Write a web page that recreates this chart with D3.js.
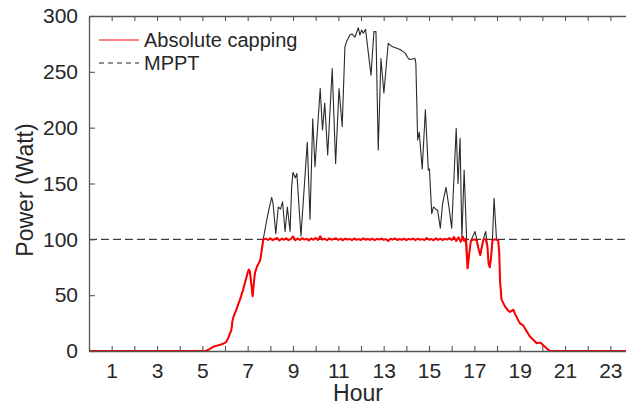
<!DOCTYPE html>
<html>
<head>
<meta charset="utf-8">
<script src="https://cdn.jsdelivr.net/npm/d3@7"></script>
<style>
  html, body { margin: 0; padding: 0; background: #fff; }
  svg { display: block; font-family: "Liberation Sans", Arial, Helvetica, sans-serif; }
</style>
</head>
<body>
<svg id="chart" width="626" height="405"></svg>
<script>
// ---------------- data ----------------
const xTicks = d3.range(0, 25);                 // hour ticks
const xTickLabels = [1, 3, 5, 7, 9, 11, 13, 15, 17, 19, 21, 23];
const yTicks = [0, 50, 100, 150, 200, 250, 300];
const capLimit = 100;
const legendLabels = ["Absolute capping", "MPPT"];

// Absolute capping output [hour, watt]
const capping = [
  [0,0],[5.15,0],[5.3,1.5],[5.48,3.8],[5.65,4.8],[5.8,5.6],[5.95,6.8],[6.05,8],[6.15,12],
  [6.28,19],[6.33,27],[6.38,31],[6.5,37],[6.66,46],[6.8,55],[6.92,64],[7.0,70],[7.05,73],
  [7.1,71],[7.15,62],[7.22,49],[7.27,60],[7.32,70],[7.4,75],[7.47,78],[7.55,81],[7.62,90],
  [7.69,100],[7.8,100.6],[7.9,99.4],[8.0,100.9],[8.1,99.2],[8.2,100.3],[8.3,101.2],[8.4,99.0],
  [8.5,100.5],[8.6,99.6],[8.7,101.0],[8.8,99.3],[8.9,100.2],[9.0,102.6],[9.1,99.1],[9.2,100.7],
  [9.3,99.5],[9.4,101.0],[9.5,99.8],[9.6,100.4],[9.7,98.9],[9.8,100.8],[9.9,99.6],[10.0,101.3],
  [10.1,99.4],[10.2,102.8],[10.3,99.7],[10.4,100.5],[10.5,99.2],[10.6,100.9],[10.7,99.6],
  [10.8,100.3],[10.9,101.0],[11.0,99.4],[11.1,100.6],[11.2,99.1],[11.3,100.7],[11.4,99.8],
  [11.5,100.4],[11.6,99.3],[11.7,100.8],[11.8,99.6],[11.9,100.2],[12.0,99.4],[12.1,100.9],
  [12.2,99.7],[12.3,100.3],[12.4,99.5],[12.5,100.6],[12.6,99.2],[12.7,100.4],[12.8,99.8],
  [12.9,100.7],[13.0,99.5],[13.1,100.2],[13.2,98.6],[13.3,100.5],[13.4,99.7],[13.5,100.8],
  [13.6,99.4],[13.7,100.3],[13.8,99.6],[13.9,100.6],[14.0,99.3],[14.1,100.4],[14.2,99.8],
  [14.3,100.7],[14.4,99.2],[14.5,100.5],[14.6,99.7],[14.7,100.2],[14.8,99.4],[14.9,101.1],
  [15.0,99.6],[15.1,100.3],[15.2,99.1],[15.3,101.0],[15.4,99.5],[15.5,100.6],[15.6,99.3],
  [15.7,100.4],[15.8,99.8],[15.9,101.2],[16.0,99.4],[16.1,102.0],[16.2,98.6],[16.3,101.8],
  [16.4,97.8],[16.5,102.4],[16.55,98.5],[16.62,100.5],[16.7,74],[16.78,88],[16.85,99],
  [17.0,100],[17.1,99],[17.2,90],[17.26,86],[17.32,92],[17.4,100],[17.5,100],[17.57,95],
  [17.63,78],[17.68,75],[17.73,82],[17.8,99],[17.9,100],[18.0,99.5],[18.05,99],[18.1,88],
  [18.13,64],[18.2,46],[18.35,40],[18.5,36],[18.57,35],[18.65,36],[18.72,37],[18.8,33],
  [18.9,29],[19.0,25],[19.15,23],[19.3,18],[19.45,13],[19.6,10],[19.75,7],[19.85,7.5],
  [19.92,7.5],[20.05,5],[20.19,2.4],[20.33,0],[24,0]
];

// MPPT output [hour, watt]
const mppt = [
  [0,0],[5.15,0],[5.3,1.5],[5.48,3.8],[5.65,4.8],[5.8,5.6],[5.95,6.8],[6.05,8],[6.15,12],
  [6.28,19],[6.33,27],[6.38,31],[6.5,37],[6.66,46],[6.8,55],[6.92,64],[7.0,70],[7.05,73],
  [7.1,71],[7.15,62],[7.22,49],[7.27,60],[7.32,70],[7.4,75],[7.47,78],[7.55,81],[7.62,90],
  [7.69,100.5],[7.84,117],[7.95,128],[8.06,137.6],[8.12,132],[8.24,105],[8.35,129],[8.45,127],
  [8.54,133.7],[8.65,107],[8.75,129],[8.87,107],[8.94,147],[9.0,160],[9.1,155],[9.17,159],
  [9.35,103],[9.63,187],[9.75,118],[9.87,208],[9.97,165],[10.2,235],[10.3,198],[10.4,222],
  [10.53,175.5],[10.73,253],[10.88,168],[11.03,235],[11.17,201],[11.29,272],[11.36,277],
  [11.51,283],[11.6,284],[11.73,281],[11.88,289.5],[11.95,283],[12.03,287.5],[12.1,284.6],
  [12.2,288],[12.44,247],[12.57,286],[12.66,286],[12.76,180],[12.88,262],[13.01,231],
  [13.2,275.5],[13.35,273],[13.72,270],[13.94,267],[14.09,262],[14.16,261],[14.38,262],
  [14.42,257.6],[14.5,189],[14.57,196],[14.7,163],[14.84,216],[14.97,162],[15.02,163],
  [15.12,123],[15.2,129],[15.3,127],[15.38,126],[15.5,110],[15.6,132],[15.75,146.6],
  [15.88,129],[16.0,110],[16.2,199.5],[16.28,150],[16.37,190.5],[16.45,100],[16.55,162],
  [16.66,100],[16.7,74],[16.78,88],[16.85,99],[17.03,107],[17.12,99],[17.2,90],[17.26,86],
  [17.32,92],[17.4,100],[17.5,107],[17.57,95],[17.63,78],[17.68,75],[17.73,82],[17.8,100],
  [17.87,136.7],[17.98,99.5],[18.05,99],[18.1,88],[18.13,64],[18.2,46],[18.35,40],[18.5,36],
  [18.57,35],[18.65,36],[18.72,37],[18.8,33],[18.9,29],[19.0,25],[19.15,23],[19.3,18],
  [19.45,13],[19.6,10],[19.75,7],[19.85,7.5],[19.92,7.5],[20.05,5],[20.19,2.4],[20.33,0],[24,0]
];

// ---------------- layout ----------------
const svg = d3.select("#chart");
const mLeft = 89, mTop = 16, mBottom = 351, hourPx = 22.667;
const mRight = mLeft + 24 * hourPx;
const axisColor = "#555";
const textColor = "#262626";

const x = d3.scaleLinear().domain([0, 24]).range([mLeft, mRight]);
const y = d3.scaleLinear().domain([0, 300]).range([mBottom, mTop]);

svg.append("defs").append("clipPath").attr("id", "plotClip")
  .append("rect").attr("x", mLeft).attr("y", mTop - 2).attr("width", mRight - mLeft).attr("height", mBottom - mTop + 2);

const plot = svg.append("g").attr("clip-path", "url(#plotClip)");

// cap reference line
plot.append("line")
  .attr("x1", x(0)).attr("x2", x(24)).attr("y1", y(capLimit)).attr("y2", y(capLimit))
  .attr("stroke", "#111").attr("stroke-width", 1).attr("stroke-dasharray", "8,4");

const line = d3.line().x(d => x(d[0])).y(d => y(d[1]));

plot.append("path").datum(mppt)
  .attr("d", line).attr("fill", "none")
  .attr("stroke", "#2a2a2a").attr("stroke-width", 1.1).attr("stroke-linejoin", "round");

plot.append("path").datum(capping)
  .attr("d", line).attr("fill", "none")
  .attr("stroke", "#ff0000").attr("stroke-width", 2).attr("stroke-linejoin", "round");

// ---------------- axes ----------------
function styleAxis(g) {
  g.select(".domain").attr("stroke", axisColor).attr("stroke-width", 1.3);
  g.selectAll(".tick line").attr("stroke", axisColor).attr("stroke-width", 1.1);
  g.selectAll("text").attr("fill", textColor).attr("font-size", 21)
    .attr("font-family", "Liberation Sans, Arial, sans-serif");
}

svg.append("g").attr("transform", `translate(0,${mBottom})`)
  .call(d3.axisBottom(x).tickValues(xTicks).tickSizeInner(-5).tickSizeOuter(0).tickPadding(12)
    .tickFormat(d => xTickLabels.includes(d) ? d : ""))
  .call(styleAxis);

svg.append("g").attr("transform", `translate(0,${mTop})`)
  .call(d3.axisTop(x).tickValues(xTicks).tickSizeInner(-5).tickSizeOuter(0).tickFormat(""))
  .call(styleAxis);

svg.append("g").attr("transform", `translate(${mLeft},0)`)
  .call(d3.axisLeft(y).tickValues(yTicks).tickSizeInner(-6).tickSizeOuter(0).tickPadding(11))
  .call(styleAxis);

svg.append("g").attr("transform", `translate(${mRight},0)`)
  .call(d3.axisRight(y).tickValues(yTicks).tickSizeInner(-6).tickSizeOuter(0).tickFormat(""))
  .call(styleAxis);

// axis titles
svg.append("text").attr("x", 358).attr("y", 401)
  .attr("text-anchor", "middle").attr("font-size", 23).attr("fill", textColor).text("Hour");
svg.append("text")
  .attr("transform", "translate(33,190) rotate(-90)")
  .attr("text-anchor", "middle").attr("font-size", 23).attr("fill", textColor).text("Power (Watt)");

// ---------------- legend ----------------
const leg = svg.append("g");
leg.append("line").attr("x1", 99).attr("x2", 139).attr("y1", 40).attr("y2", 40)
  .attr("stroke", "#ff0000").attr("stroke-width", 1.2);
leg.append("text").attr("x", 144).attr("y", 47).attr("font-size", 20).attr("fill", textColor).text(legendLabels[0]);
leg.append("line").attr("x1", 99).attr("x2", 139).attr("y1", 63).attr("y2", 63)
  .attr("stroke", "#222").attr("stroke-width", 1).attr("stroke-dasharray", "5,4");
leg.append("text").attr("x", 144).attr("y", 70).attr("font-size", 20).attr("fill", textColor).text(legendLabels[1]);
</script>
</body>
</html>
